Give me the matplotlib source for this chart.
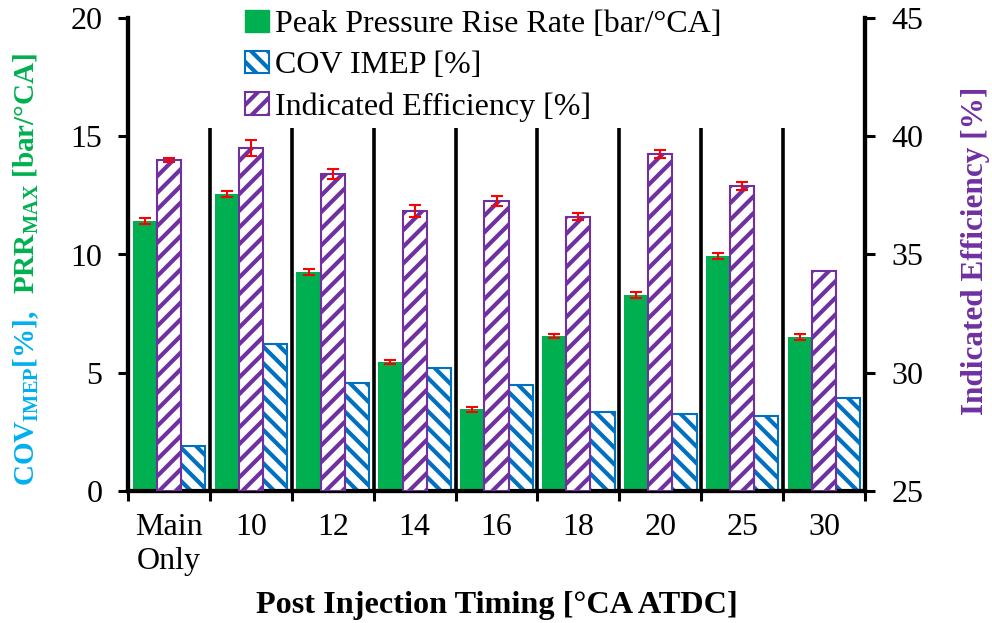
import matplotlib
matplotlib.use("Agg")
import matplotlib.pyplot as plt
import numpy as np
from matplotlib.patches import Patch

plt.rcParams['font.family'] = ['Liberation Serif', 'DejaVu Serif']
plt.rcParams['mathtext.fontset'] = 'custom'
plt.rcParams['mathtext.rm'] = 'Liberation Serif'
plt.rcParams['mathtext.bf'] = 'Liberation Serif:bold'
plt.rcParams['mathtext.it'] = 'Liberation Serif:italic'
plt.rcParams['hatch.linewidth'] = 3.0

categories = ['Main\nOnly', '10', '12', '14', '16', '18', '20', '25', '30']
prr = [11.4, 12.55, 9.25, 5.45, 3.45, 6.55, 8.3, 9.95, 6.5]
prr_err = [0.13, 0.13, 0.13, 0.1, 0.1, 0.1, 0.12, 0.13, 0.12]
cov = [1.9, 6.2, 4.55, 5.2, 4.5, 3.35, 3.25, 3.17, 3.95]
eff = [39.0, 39.5, 38.4, 36.85, 37.25, 36.6, 39.25, 37.9, 34.3]
eff_err = [0.1, 0.33, 0.22, 0.25, 0.22, 0.15, 0.17, 0.17, 0.0]

GREEN = '#00B050'
BLUE = '#0070C0'
PURPLE = '#7030A0'
CYAN = '#00B0F0'

fig = plt.figure(figsize=(9.92, 6.23), dpi=100)
L, R, B, T = 128/992, 865/992, 1-491/623, 1-18/623
ax = fig.add_axes([L, B, R-L, T-B])
ax2 = ax.twinx()

x = np.arange(len(categories))
w = 0.295

ax.bar(x - w, prr, w, color=GREEN, zorder=3, yerr=prr_err,
       error_kw=dict(ecolor='red', lw=1.5, capsize=4.5, capthick=1.5))
ax.bar(x + w, cov, w, facecolor='white', edgecolor=BLUE, hatch='\\\\', linewidth=1.5, zorder=3)
ax2.bar(x, np.array(eff) - 25, w, bottom=25, facecolor='white', edgecolor=PURPLE,
        hatch='//', linewidth=1.5, zorder=3)
mask = np.array(eff_err) > 0
ax2.errorbar(x[mask], np.array(eff)[mask], yerr=np.array(eff_err)[mask], fmt='none',
             ecolor='red', elinewidth=1.5, capsize=4.5, capthick=1.5, zorder=4)

ax.vlines(np.arange(len(categories) - 1) + 0.5, 0, 15.35, color='black', lw=2.6, zorder=2)

ax.set_xlim(-0.5, len(categories) - 0.5)
ax.set_ylim(0, 20)
ax2.set_ylim(25, 45)
ax.set_yticks([0, 5, 10, 15, 20])
ax2.set_yticks([25, 30, 35, 40, 45])
ax.set_xticks(x)
ax.set_xticklabels(categories)
ax.set_xticks(np.arange(len(categories) + 1) - 0.5, minor=True)

for a in (ax, ax2):
    a.spines['top'].set_visible(False)
    for s in ('left', 'right', 'bottom'):
        a.spines[s].set_linewidth(3.0)
ax.tick_params(axis='x', which='major', length=0, pad=16, labelsize=23)
ax.tick_params(axis='x', which='minor', length=7, width=2.2, direction='out')
ax.tick_params(axis='y', length=7, width=2.2, direction='out', pad=11.5, labelsize=23)
ax2.tick_params(axis='y', length=7, width=2.2, direction='out', pad=12, labelsize=23)

ax.set_xlabel('Post Injection Timing [°CA ATDC]', fontsize=23.2, fontweight='bold', labelpad=11)

# right label
fig.text(976/992, 1 - 251/623, 'Indicated Efficiency [%]', rotation=90, ha='center', va='center',
         fontsize=22.5, fontweight='bold', color=PURPLE)

# left two-colour label
fig.canvas.draw()
r = fig.canvas.get_renderer()
H = fig.bbox.height
t1 = fig.text(26/992, 1 - 486/623, r'$\mathbf{COV}_{\mathbf{IMEP}}\mathbf{[\%],}$', rotation=90,
              ha='center', va='bottom', fontsize=21, color=CYAN)
bb = t1.get_window_extent(r)
fig.text(26/992, (bb.y1 + 16) / H, r'$\mathbf{PRR}_{\mathbf{MAX}}\ \mathbf{[bar/°CA]}$', rotation=90,
         ha='center', va='bottom', fontsize=21, color=GREEN)

handles = [Patch(facecolor=GREEN, edgecolor=GREEN),
           Patch(facecolor='white', edgecolor=BLUE, hatch='\\\\', linewidth=1.5),
           Patch(facecolor='white', edgecolor=PURPLE, hatch='//', linewidth=1.5)]
labels = ['Peak Pressure Rise Rate [bar/°CA]', 'COV IMEP [%]', 'Indicated Efficiency [%]']
fig.legend(handles, labels, loc='upper left', bbox_to_anchor=(245/992, 1 - 10/623),
           frameon=False, fontsize=23, handlelength=0.75, handleheight=0.69,
           handletextpad=0.2, labelspacing=0.37, borderpad=0, borderaxespad=0)

fig.savefig('out.png', dpi=100)
